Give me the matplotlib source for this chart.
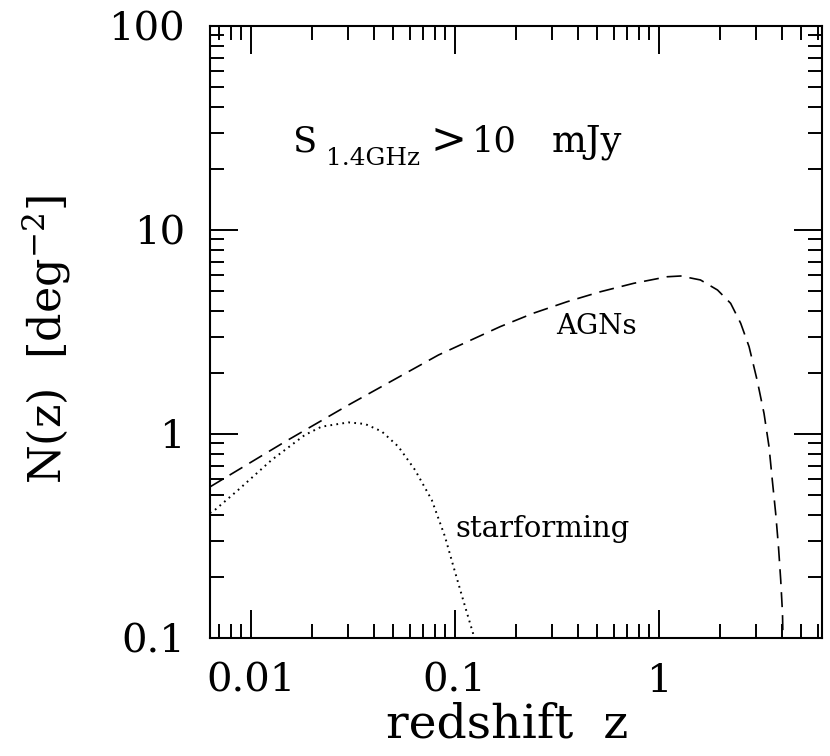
import matplotlib
matplotlib.use("Agg")
import matplotlib.pyplot as plt
from matplotlib.ticker import FixedLocator, NullFormatter

# ---------------- data ----------------
agn_z = [0.0063, 0.0147, 0.0301, 0.0832, 0.167, 0.243, 0.355, 0.517, 0.754,
         1.10, 1.28, 1.60, 1.94, 2.25, 2.52, 2.77, 3.04, 3.28, 3.47, 3.60,
         3.74, 3.86, 3.96, 4.04, 4.06]
agn_n = [0.55, 0.916, 1.387, 2.44, 3.36, 3.91, 4.45, 4.98, 5.48,
         5.90, 5.95, 5.69, 5.08, 4.37, 3.49, 2.68, 1.82, 1.26, 0.866, 0.595,
         0.409, 0.281, 0.192, 0.132, 0.101]

sf_z = [0.0063, 0.00666, 0.00866, 0.01265, 0.0184, 0.0222, 0.0301, 0.0363,
        0.0438, 0.0529, 0.0638, 0.0771, 0.0895, 0.0985, 0.110, 0.123, 0.125]
sf_n = [0.41, 0.424, 0.531, 0.746, 0.989, 1.086, 1.14, 1.12,
        1.03, 0.867, 0.667, 0.475, 0.314, 0.224, 0.153, 0.105, 0.098]

x_ticks = [0.01, 0.1, 1]
x_ticklabels = ["0.01", "0.1", "1"]
y_ticks = [0.1, 1, 10, 100]
y_ticklabels = ["0.1", "1", "10", "100"]

xlabel = "redshift  z"
ylabel = r"N(z)  [deg$^{-2}$]"
agn_label = "AGNs"
sf_label = "starforming"

# ---------------- figure ----------------
W, H = 830, 756
plt.rcParams["font.family"] = ["DejaVu Serif"]
plt.rcParams["mathtext.fontset"] = "dejavuserif"

fig = plt.figure(figsize=(W / 100, H / 100), dpi=100)
ax = fig.add_axes([210 / W, (H - 638) / H, 612 / W, 612 / H])

ax.plot(agn_z, agn_n, color="black", lw=1.2, linestyle=(0, (9, 4.8)))
ax.plot(sf_z, sf_n, color="black", lw=1.4, linestyle=(0, (0.9, 2.2)))

ax.set_xscale("log")
ax.set_yscale("log")
ax.set_xlim(10 ** -2.2, 10 ** 0.8)
ax.set_ylim(0.1, 100)

ax.set_xticks(x_ticks)
ax.set_xticklabels(x_ticklabels)
ax.set_yticks(y_ticks)
ax.set_yticklabels(y_ticklabels)

xminor = [m * 10.0 ** e for e in range(-3, 1) for m in range(2, 10)]
yminor = [m * 10.0 ** e for e in range(-1, 2) for m in range(2, 10)]
ax.xaxis.set_minor_locator(FixedLocator(xminor))
ax.yaxis.set_minor_locator(FixedLocator(yminor))
ax.xaxis.set_minor_formatter(NullFormatter())
ax.yaxis.set_minor_formatter(NullFormatter())

ax.tick_params(which="both", direction="in", top=True, right=True,
               width=1.4, colors="black")
ax.tick_params(which="major", length=20, labelsize=29, pad=18)
ax.tick_params(which="minor", length=10)
for s in ax.spines.values():
    s.set_linewidth(1.5)

ax.set_xlabel(xlabel, fontsize=34)
ax.set_ylabel(ylabel, fontsize=32)
ax.xaxis.set_label_coords(0.485, -0.105)
ax.yaxis.set_label_coords(-0.224, 0.487)

def fpos(px, py):
    return px / W, 1 - py / H

# annotation inside the plot
fig.text(*fpos(293, 151), "S", fontsize=25.4, va="baseline", ha="left")
fig.text(*fpos(326, 165), "1.4GHz", fontsize=17.8, va="baseline", ha="left")
fig.text(*fpos(430, 153), ">", fontsize=31, va="baseline", ha="left")
fig.text(*fpos(472, 151), "10", fontsize=25.4, va="baseline", ha="left")
fig.text(*fpos(552, 151), "mJy", fontsize=26.5, va="baseline", ha="left")

fig.text(*fpos(556, 334), agn_label, fontsize=20, va="baseline", ha="left")
fig.text(*fpos(455, 537), sf_label, fontsize=21, va="baseline", ha="left")

fig.savefig("out.png", dpi=100, facecolor="white")
